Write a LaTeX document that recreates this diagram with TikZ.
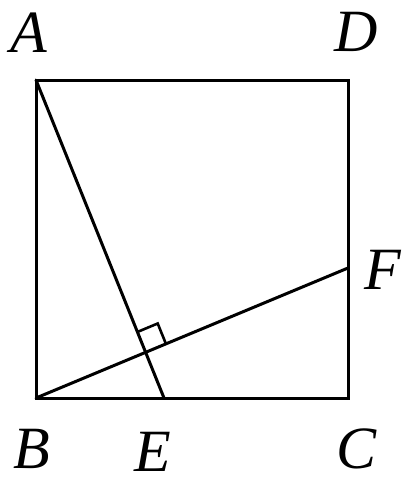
\documentclass[tikz,border=0pt]{standalone}
\usepackage{fontspec}
\setmainfont{Liberation Serif}
\usetikzlibrary{calc}
\begin{document}
\begin{tikzpicture}[x=1pt,y=-1pt,
  edge/.style={line width=3pt,line cap=round,line join=miter},
  lbl/.style={inner sep=0pt,font=\fontsize{60}{60}\selectfont\itshape}]
\useasboundingbox (0,0) rectangle (404,479);
\coordinate (A) at (36,80);
\coordinate (D) at (348,80);
\coordinate (C) at (348,398);
\coordinate (B) at (36,398);
\coordinate (E) at (164,398);
\coordinate (F) at (348,268);
\draw[edge] (A) -- (D) -- (C) -- (B) -- cycle;
\draw[edge] (A) -- (E);
\draw[edge] (B) -- (F);
\coordinate (P) at (intersection of A--E and B--F);
\coordinate (P1) at ($(P)!22pt!(A)$);
\coordinate (P2) at ($(P)!22pt!(F)$);
\draw[line width=2.6pt] (P1) -- ($(P1)+(P2)-(P)$) -- (P2);
\node[lbl] (lA) at (29,33) {A};
\node[lbl] (lD) at (356,32) {D};
\node[lbl] (lF) at (383,270) {F};
\node[lbl] (lB) at (32,449) {B};
\node[lbl] (lE) at (153,452) {E};
\node[lbl] (lC) at (357,449) {C};
\end{tikzpicture}
\end{document}
